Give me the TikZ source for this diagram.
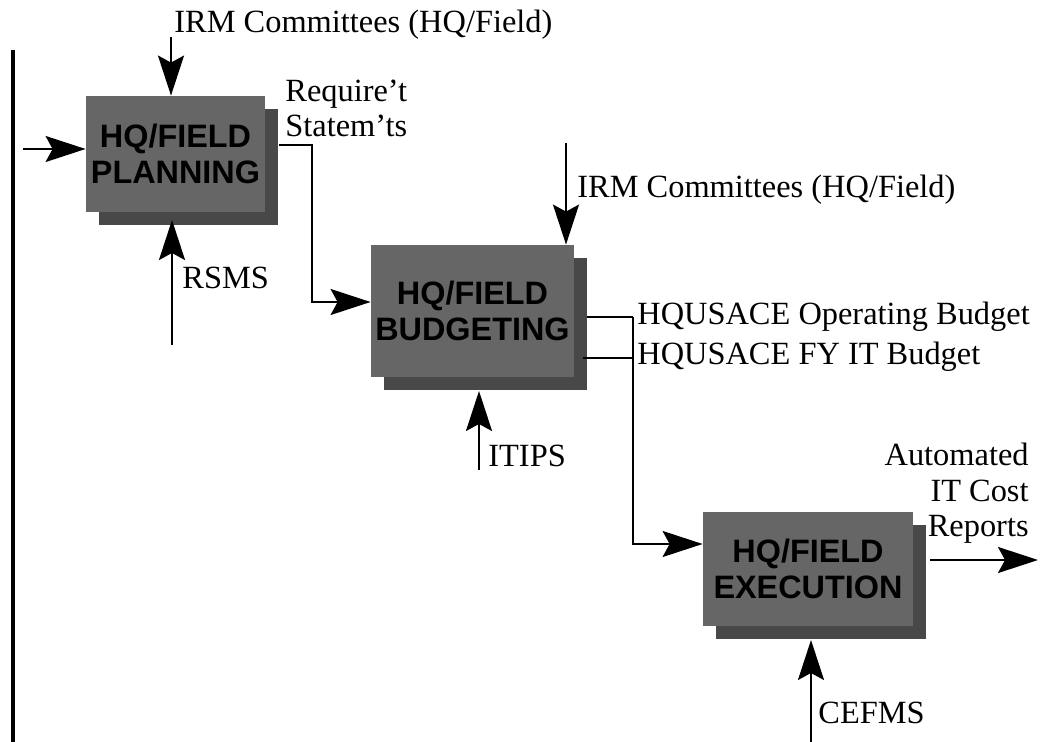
\documentclass[tikz,border=0pt]{standalone}
\usepackage{fontspec}
\setmainfont{Liberation Serif}
\newfontfamily\boxfont{Liberation Sans}
\usetikzlibrary{arrows.meta,shadows}
\definecolor{boxgray}{RGB}{102,102,102}
\definecolor{shadowgray}{RGB}{72,72,72}
\begin{document}
\begin{tikzpicture}[x=0.5pt,y=-0.5pt,
  proc/.style={fill=boxgray, draw=none, inner sep=0pt, align=center, text=black,
    font=\boxfont\bfseries\fontsize{16.2}{18}\selectfont,
    drop shadow={shadow xshift=6.5pt, shadow yshift=-6.5pt, fill=shadowgray, opacity=1}},
  lbl/.style={font=\fontsize{16.2}{17.8}\selectfont, inner sep=0pt},
  arr/.style={line width=1.1pt, -{Stealth[length=20pt,width=13pt,inset=3.5pt]}},
  ln/.style={line width=1.1pt}]
\useasboundingbox (0,0) rectangle (1049,742);

% process boxes
\node[proc, minimum width=89.5pt, minimum height=58pt] (plan) at (175.5,154) {HQ/FIELD\\PLANNING};
\node[proc, minimum width=101.5pt, minimum height=66pt] (budg) at (472.5,311) {HQ/FIELD\\BUDGETING};
\node[proc, minimum width=105pt, minimum height=57pt] (exec) at (808,569) {HQ/FIELD\\EXECUTION};

% labels (multi-line nodes are placed by the baseline of their last line)
\node[lbl, anchor=base west] (irm1) at (174,33) {IRM Committees (HQ/Field)};
\node[lbl, anchor=base west, align=left] (req) at (285,137) {Require’t\\Statem’ts};
\node[lbl, anchor=base west] (rsms) at (182,289) {RSMS};
\node[lbl, anchor=base west] (irm2) at (577,198) {IRM Committees (HQ/Field)};
\node[lbl, anchor=base west] (opb) at (637,325) {HQUSACE Operating Budget};
\node[lbl, anchor=base west] (fyb) at (637,365) {HQUSACE FY IT Budget};
\node[lbl, anchor=base west] (itips) at (488,467) {ITIPS};
\node[lbl, anchor=base east, align=right] (auto) at (1029,537) {Automated\\IT Cost\\Reports};
\node[lbl, anchor=base west] (cefms) at (818,723) {CEFMS};

% free ends
\coordinate (leftTop) at (13,50);
\coordinate (leftBot) at (13,742);
\coordinate (inP) at (23,149);
\coordinate (irm1s) at (171,37);
\coordinate (rsmsS) at (172,345);
\coordinate (rsmsE) at (172,220);
\coordinate (pOut) at (279,145);
\coordinate (pBend) at (312,302);
\coordinate (irm2s) at (566,143);
\coordinate (opS) at (587,317);
\coordinate (junc) at (633,317);
\coordinate (fyS) at (583,358);
\coordinate (fyE) at (633,358);
\coordinate (eBend) at (633,544);
\coordinate (itS) at (479,470);
\coordinate (itE) at (479,391);
\coordinate (eOut) at (930,560);
\coordinate (eOutE) at (1038,560);
\coordinate (ceS) at (811,742);
\coordinate (ceE) at (811,640);

% connectors
\draw[line width=1.6pt] (leftTop) -- (leftBot);
\draw[arr] (inP) -- (inP -| plan.west);
\draw[arr] (irm1s) -- (irm1s |- plan.north);
\draw[arr] (rsmsS) -- (rsmsE);
\draw[arr] (pOut) -| (pBend) -- (pBend -| budg.west);
\draw[arr] (irm2s) -- (irm2s |- budg.north);
\draw[ln] (opS) -- (junc);
\draw[ln] (fyS) -- (fyE);
\draw[arr] (junc) -- (eBend) -- (eBend -| exec.west);
\draw[arr] (itS) -- (itE);
\draw[arr] (eOut) -- (eOutE);
\draw[arr] (ceS) -- (ceE);
\end{tikzpicture}
\end{document}
